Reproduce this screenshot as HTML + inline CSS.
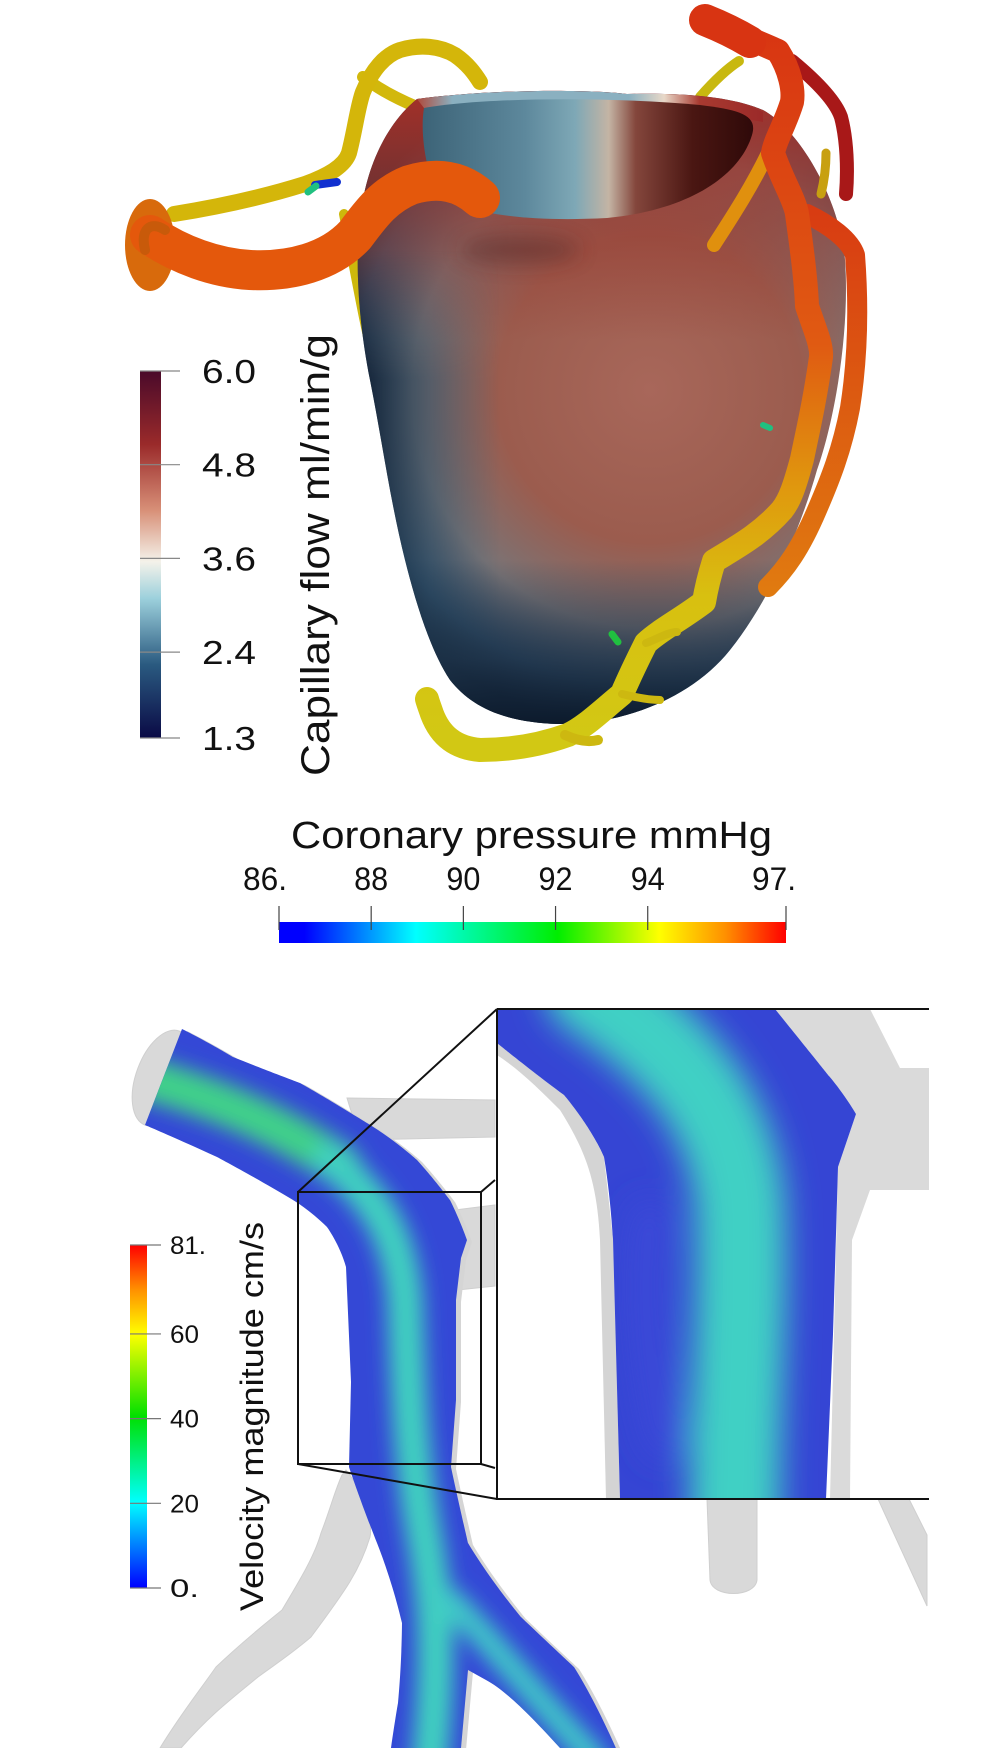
<!DOCTYPE html>
<html><head><meta charset="utf-8"><style>
html,body{margin:0;padding:0;background:#fff;}
svg{display:block;font-family:"Liberation Sans",sans-serif;}
</style></head><body>
<svg id="fig" width="1004" height="1748" viewBox="0 0 1004 1748" xmlns="http://www.w3.org/2000/svg">
<defs>
 <radialGradient id="heartBase" cx="650" cy="390" r="340" gradientUnits="userSpaceOnUse">
  <stop offset="0" stop-color="#a8675a"/><stop offset="0.45" stop-color="#9b5c4e"/>
  <stop offset="0.7" stop-color="#7a7476"/><stop offset="0.88" stop-color="#34506a"/><stop offset="1" stop-color="#142438"/>
 </radialGradient>
 <linearGradient id="topRed" x1="0" y1="100" x2="0" y2="340" gradientUnits="userSpaceOnUse">
  <stop offset="0" stop-color="#a83028" stop-opacity="0.95"/><stop offset="0.5" stop-color="#9a3a30" stop-opacity="0.6"/><stop offset="1" stop-color="#9a3a30" stop-opacity="0"/>
 </linearGradient>
 <linearGradient id="leftDark" x1="360" y1="0" x2="500" y2="0" gradientUnits="userSpaceOnUse">
  <stop offset="0" stop-color="#0e1c30" stop-opacity="0.95"/><stop offset="0.5" stop-color="#2a4a62" stop-opacity="0.5"/><stop offset="1" stop-color="#3a5a70" stop-opacity="0"/>
 </linearGradient>
 <linearGradient id="leftDarkTop" x1="0" y1="250" x2="0" y2="380" gradientUnits="userSpaceOnUse">
  <stop offset="0" stop-color="#fff" stop-opacity="0"/><stop offset="1" stop-color="#fff" stop-opacity="1"/>
 </linearGradient>
 <mask id="lowerMask"><rect x="340" y="80" width="520" height="700" fill="url(#leftDarkTop)"/></mask>
 <linearGradient id="botDark" x1="0" y1="560" x2="0" y2="725" gradientUnits="userSpaceOnUse">
  <stop offset="0" stop-color="#1a2e44" stop-opacity="0"/><stop offset="0.6" stop-color="#1a2e44" stop-opacity="0.7"/><stop offset="1" stop-color="#0c1a2c" stop-opacity="1"/>
 </linearGradient>
 <linearGradient id="inner" x1="424" y1="0" x2="760" y2="0" gradientUnits="userSpaceOnUse">
  <stop offset="0" stop-color="#3d6478"/><stop offset="0.3" stop-color="#5d889c"/><stop offset="0.45" stop-color="#7ea8b6"/>
  <stop offset="0.55" stop-color="#c4b4a4"/><stop offset="0.63" stop-color="#84463c"/><stop offset="0.8" stop-color="#4a1612"/><stop offset="1" stop-color="#2c0808"/>
 </linearGradient>
 <linearGradient id="rim" x1="417" y1="0" x2="770" y2="0" gradientUnits="userSpaceOnUse">
  <stop offset="0" stop-color="#b04a3c"/><stop offset="0.1" stop-color="#8ab0c0"/><stop offset="0.6" stop-color="#8ab0c0"/><stop offset="0.7" stop-color="#e8d8c8"/><stop offset="0.8" stop-color="#a83a30"/><stop offset="1" stop-color="#9a2828"/>
 </linearGradient>
 <linearGradient id="treeGrad" x1="0" y1="20" x2="0" y2="740" gradientUnits="userSpaceOnUse">
  <stop offset="0" stop-color="#d83412"/><stop offset="0.45" stop-color="#e05a12"/><stop offset="0.65" stop-color="#e0980e"/><stop offset="0.8" stop-color="#d8c010"/><stop offset="1" stop-color="#d2c814"/>
 </linearGradient>
 <linearGradient id="tree2Grad" x1="0" y1="200" x2="0" y2="590" gradientUnits="userSpaceOnUse">
  <stop offset="0" stop-color="#d83a12"/><stop offset="1" stop-color="#e07a10"/>
 </linearGradient>
 <linearGradient id="capBar" x1="0" y1="1" x2="0" y2="0">
  <stop offset="0" stop-color="#0a0a45"/><stop offset="0.2" stop-color="#2a5a80"/><stop offset="0.38" stop-color="#9cd0dc"/>
  <stop offset="0.48" stop-color="#f4f2ea"/><stop offset="0.62" stop-color="#d89078"/><stop offset="0.8" stop-color="#9a2a2a"/><stop offset="1" stop-color="#4a0a2a"/>
 </linearGradient>
 <linearGradient id="jetH" x1="0" y1="0" x2="1" y2="0">
  <stop offset="0" stop-color="#0000ff"/><stop offset="0.05" stop-color="#0000ff"/><stop offset="0.27" stop-color="#00ffff"/><stop offset="0.55" stop-color="#00ee00"/>
  <stop offset="0.75" stop-color="#ffff00"/><stop offset="0.88" stop-color="#ff9000"/><stop offset="1" stop-color="#ff0000"/>
 </linearGradient>
 <linearGradient id="jetV" x1="0" y1="1" x2="0" y2="0">
  <stop offset="0" stop-color="#0000ff"/><stop offset="0.25" stop-color="#00ffff"/><stop offset="0.5" stop-color="#00e000"/>
  <stop offset="0.74" stop-color="#ffff00"/><stop offset="0.87" stop-color="#ff9000"/><stop offset="1" stop-color="#ff0000"/>
 </linearGradient>
 <clipPath id="heartClip"><path d="M417,99 C500,88 600,90 627,94 C700,92 740,100 763,110 C800,130 840,200 845,260 C850,330 835,420 817,470 C800,530 770,600 730,650 C690,700 620,725 558,724 C500,722 470,705 450,680 C430,650 415,600 405,560 C390,500 382,440 370,380 C358,320 355,260 360,220 C365,170 385,125 417,99 Z"/></clipPath>
 <clipPath id="vesselClip"><path d="M182,1029 C210,1043 233,1057 233,1057 C260,1068 300,1083 300,1083 C330,1100 367,1123 367,1123 C395,1140 417,1160 417,1160 C435,1180 450,1200 450,1200 C460,1220 467,1240 467,1240 L461,1258 L456,1300 L456,1400 L451,1467 C458,1500 468,1543 468,1543 C490,1580 521,1617 521,1617 C545,1640 574,1667 574,1667 C595,1700 616,1748 616,1748 L560,1748 C530,1715 505,1690 486,1680 L468,1670 L461,1748 L391,1748 C395,1720 398,1703 398,1703 C402,1660 402,1623 402,1623 C392,1580 377,1543 377,1543 C360,1500 349,1467 349,1467 L351,1382 L346,1267 C340,1245 327,1227 327,1227 C310,1210 293,1200 293,1200 C260,1180 217,1157 217,1157 C180,1140 145,1125 145,1125 Z"/></clipPath>
 <clipPath id="insetVesselClip"><path d="M497,1009 L775,1009 C800,1040 829,1076 829,1076 C845,1095 856,1114 856,1114 L838,1167 L833,1334 L826,1499 L620,1499 L613,1239 C610,1190 604,1157 604,1157 C590,1125 564,1095 564,1095 C530,1070 497,1043 497,1043 Z"/></clipPath>
 <clipPath id="insetClip"><rect x="497" y="1009" width="432" height="490"/></clipPath>
 <filter id="blur8" filterUnits="userSpaceOnUse" x="0" y="0" width="1004" height="1748"><feGaussianBlur stdDeviation="10"/></filter>
 <filter id="blur14" filterUnits="userSpaceOnUse" x="0" y="0" width="1004" height="1748"><feGaussianBlur stdDeviation="16"/></filter>
</defs>

<!-- ===== HEART ===== -->
<g>
 <path d="M363,77 C380,90 400,100 417,107" stroke="#d2b80c" stroke-width="12" fill="none" stroke-linecap="round"/>
 <path d="M344,214 C355,270 365,330 378,378" stroke="#cdb80c" stroke-width="10" fill="none" stroke-linecap="round"/>
 <path d="M700,97 C715,80 728,68 739,61" stroke="#c8b810" stroke-width="10" fill="none" stroke-linecap="round"/>
 <g clip-path="url(#heartClip)">
  <rect x="340" y="80" width="520" height="660" fill="url(#heartBase)"/>
  <rect x="340" y="80" width="520" height="660" fill="url(#topRed)"/>
  <rect x="340" y="80" width="520" height="660" fill="url(#leftDark)" mask="url(#lowerMask)"/>
  <rect x="340" y="540" width="520" height="200" fill="url(#botDark)"/>
  <ellipse cx="520" cy="250" rx="60" ry="14" fill="#4a2020" opacity="0.4" filter="url(#blur8)"/>
  <path d="M417,99 C500,88 600,90 627,94 C700,92 740,100 763,112 L763,122 C700,110 600,104 424,108 Z" fill="url(#rim)"/>
 </g>
 <path d="M424,108 C480,98 600,96 700,105 C740,110 758,115 752,135 C740,175 690,210 607,218 C530,222 470,215 440,195 C425,175 420,130 424,108 Z" fill="url(#inner)"/>
</g>

<!-- vessels -->
<g fill="none" stroke-linecap="round" stroke-linejoin="round">
 <path d="M174,214 C230,205 270,195 305,184 C330,175 345,165 349,153 C355,130 358,105 363,92 C372,70 385,55 400,50 C420,44 440,46 455,55 C468,64 475,74 480,82" stroke="#d4b60a" stroke-width="16"/>
 <path d="M315,185 L337,182" stroke="#1030d0" stroke-width="8"/>
 <path d="M308,192 L316,186" stroke="#20c080" stroke-width="7"/>
 <ellipse cx="150" cy="245" rx="25" ry="46" fill="#d86a0c"/>
 <path d="M150,235 C180,255 215,268 250,270 C290,272 330,262 355,235 C372,212 385,195 410,185 C440,176 462,182 480,198" stroke="#e4580c" stroke-width="40"/>
 <path d="M165,230 C150,220 140,230 145,250" stroke="#c85a0a" stroke-width="10"/>
 <path d="M792,61 C815,80 835,100 841,117 C847,140 848,170 846,194" stroke="#a81818" stroke-width="14"/>
 <path d="M826,153 C826,170 824,182 821,194" stroke="#c8a010" stroke-width="9"/>
 <path d="M807,214 C830,225 850,240 855,255 C860,320 856,370 850,408 C842,450 830,480 817,510 C800,550 785,570 768,587" stroke="url(#tree2Grad)" stroke-width="20"/>
 <path d="M768,153 C750,190 730,220 714,245" stroke="#e0900e" stroke-width="14"/>
 <path d="M705,20 C740,35 765,45 778,51 C790,70 794,90 792,102 C785,125 775,140 773,153 C782,180 795,200 797,214 C802,250 806,280 807,306 C815,330 822,345 821,357 C815,400 808,430 802,459 C795,485 790,500 782,510 C760,535 735,548 714,561 C708,580 706,590 704,602 C680,620 660,630 646,643 C635,665 628,680 622,694 C600,712 585,727 568,735 C540,745 510,750 480,750 C455,748 440,735 432,714 C430,708 428,703 427,699" stroke="url(#treeGrad)" stroke-width="24"/>
 <path d="M705,20 C725,28 740,36 750,42" stroke="#d83412" stroke-width="32"/>
 <path d="M646,643 C655,640 668,632 677,632" stroke="#cdb810" stroke-width="8"/>
 <path d="M622,694 C638,698 650,700 660,700" stroke="#cdb810" stroke-width="8"/>
 <path d="M565,735 C580,742 590,742 598,740" stroke="#cdb810" stroke-width="10"/>
 <path d="M612,634 L618,642" stroke="#20c040" stroke-width="7"/>
 <path d="M763,425 L770,428" stroke="#20c080" stroke-width="6"/>
</g>

<!-- capillary colorbar -->
<g>
 <rect x="140" y="371" width="21" height="367" fill="url(#capBar)"/>
 <g id="capTicks"></g>
 <text transform="translate(329,776) rotate(-90)" font-size="40" textLength="442" lengthAdjust="spacingAndGlyphs" fill="#111">Capillary flow ml/min/g</text>
</g>

<!-- coronary pressure colorbar -->
<g>
 <text x="291" y="848" font-size="38" textLength="481" lengthAdjust="spacingAndGlyphs" fill="#111">Coronary pressure mmHg</text>
 <rect x="279" y="922" width="507" height="21" fill="url(#jetH)"/>
 <g id="presTicks"></g>
</g>

<!-- ===== VELOCITY SECTION ===== -->
<g>
 <g fill="#d9d9d9" stroke="#cfcfcf" stroke-width="1">
  <path d="M347,1098 L495,1100 L495,1137 L360,1140 Z"/>
  <path d="M455,1210 L495,1205 L495,1286 L458,1290 Z"/>
  <path d="M346,1470 C370,1500 372,1530 370,1537 C360,1570 346,1590 311,1637 C290,1655 270,1668 258,1677 C230,1700 210,1715 181,1748 L160,1748 C180,1715 200,1690 216,1667 C250,1635 270,1620 282,1610 C300,1580 315,1555 321,1533 C330,1510 335,1490 342,1475 Z"/>
  <path d="M707,1499 L757,1499 L757,1580 C755,1598 712,1598 710,1580 Z"/>
  <path d="M878,1499 L909,1499 L927,1535 L927,1606 Z"/>
  <ellipse cx="162" cy="1078" rx="26" ry="50" transform="rotate(20 162 1078)"/>
 </g>
 <g clip-path="url(#vesselClip)" transform="translate(5,2)"><rect x="100" y="1000" width="600" height="748" fill="#d5d5d5"/></g>
 <g clip-path="url(#vesselClip)">
  <rect x="100" y="1000" width="600" height="748" fill="#3448d6"/>
  <g fill="none" stroke-linecap="round" filter="url(#blur8)">
   <path d="M150,1080 C220,1100 280,1125 340,1165" stroke="#40d08a" stroke-width="42"/>
   <path d="M330,1160 C380,1200 400,1240 405,1300 C408,1380 410,1460 425,1540 C435,1600 440,1650 430,1760" stroke="#40d0c0" stroke-width="36"/>
   <path d="M450,1600 C490,1640 520,1680 595,1760" stroke="#40c8c8" stroke-width="26"/>
  </g>
 </g>
 <!-- zoom box -->
 <g stroke="#111" stroke-width="2" fill="none">
  <rect x="298" y="1192" width="183" height="272"/>
  <path d="M481,1192 L495,1180 M481,1464 L495,1468 M298,1192 L497,1009 M298,1464 L497,1499"/>
 </g>
 <!-- inset -->
 <g clip-path="url(#insetClip)">
  <rect x="497" y="1009" width="432" height="490" fill="#fff"/>
  <path d="M770,1009 L870,1009 L900,1068 L935,1068 L935,1190 L870,1190 L852,1240 L850,1499 L830,1499 L838,1167 L856,1114 L829,1076 Z" fill="#dadada"/>
  <path d="M497,1043 C530,1070 564,1095 564,1095 C590,1125 604,1157 604,1157 L613,1239 L620,1499 L606,1499 L600,1240 C597,1180 585,1150 560,1110 C540,1090 520,1070 497,1055 Z" fill="#d4d4d4"/>
  <g clip-path="url(#insetVesselClip)">
   <rect x="490" y="1000" width="440" height="510" fill="#3545d4"/>
   <g fill="none" stroke-linecap="round" filter="url(#blur14)">
    <path d="M590,990 C680,1050 730,1110 740,1200 C745,1300 735,1400 735,1530" stroke="#40d0c4" stroke-width="90"/>
    <path d="M650,1220 C640,1300 650,1380 665,1440" stroke="#3a4ad8" stroke-width="40"/>
   </g>
  </g>
 </g>
 <path d="M497,1009 L929,1009 M497,1009 L497,1499 L929,1499" stroke="#111" stroke-width="2" fill="none"/>
</g>

<!-- velocity colorbar -->
<g>
 <rect x="130" y="1245" width="17" height="343" fill="url(#jetV)"/>
 <g id="velTicks"></g>
 <text transform="translate(263,1611) rotate(-90)" font-size="32" textLength="389" lengthAdjust="spacingAndGlyphs" fill="#111">Velocity magnitude cm/s</text>
</g>
</svg>
<script>
const capTickValues = [1.3, 2.4, 3.6, 4.8, 6.0];
const capTickLabels = ["1.3", "2.4", "3.6", "4.8", "6.0"];
const capRange = [1.3, 6.0];
const presTickValues = [86, 88, 90, 92, 94, 97];
const presTickLabels = ["86.", "88", "90", "92", "94", "97."];
const presRange = [86, 97];
const velTickValues = [0, 20, 40, 60, 81];
const velTickLabels = ["0.", "20", "40", "60", "81."];
const velRange = [0, 81];
const NS = "http://www.w3.org/2000/svg";
function capY(v){ return 738 - (v - capRange[0]) / (capRange[1] - capRange[0]) * 367; }
function presX(v){ return 279 + (v - presRange[0]) / (presRange[1] - presRange[0]) * 507; }
function velY(v){ return 1588 - (v - velRange[0]) / (velRange[1] - velRange[0]) * 343; }
function mk(tag, attrs){ const e = document.createElementNS(NS, tag); for (const k in attrs) e.setAttribute(k, attrs[k]); return e; }
const capG = document.getElementById('capTicks');
capTickValues.forEach((v, i) => {
  const y = capY(v);
  const l = mk('line', {x1: 140, x2: 180, y1: y, y2: y, stroke: '#888', 'stroke-width': 1.2});
  
  
  capG.appendChild(l);
  const t = mk('text', {x: 202, y: y + 12, 'font-size': 33, fill: '#111', textLength: 54, lengthAdjust: 'spacingAndGlyphs'});
  t.textContent = capTickLabels[i];
  
  
  capG.appendChild(t);
});
const presG = document.getElementById('presTicks');
presTickValues.forEach((v, i) => {
  const x = presX(v);
  const l = mk('line', {x1: x, x2: x, y1: 906, y2: 930, stroke: '#444', 'stroke-width': 1.2});
  
  
  presG.appendChild(l);
  const lab = presTickLabels[i];
  const w = lab.length === 3 ? 44 : 34;
  let tx = x - w / 2;
  if (i === 0) tx = 243;
  if (i === presTickValues.length - 1) tx = 752;
  const t = mk('text', {x: tx, y: 890, 'font-size': 32, fill: '#111', textLength: w, lengthAdjust: 'spacingAndGlyphs'});
  t.textContent = lab;
  
  
  presG.appendChild(t);
});
const velG = document.getElementById('velTicks');
velTickValues.forEach((v, i) => {
  const y = velY(v);
  const l = mk('line', {x1: 130, x2: 161, y1: y, y2: y, stroke: '#777', 'stroke-width': 1.2});
  
  
  velG.appendChild(l);
  const t = mk('text', {x: 170, y: y + 9, 'font-size': 25, fill: '#111', textLength: velTickLabels[i].length === 3 ? 36 : 29, lengthAdjust: 'spacingAndGlyphs'});
  t.textContent = velTickLabels[i];
  
  
  velG.appendChild(t);
});
</script>
</body></html>
